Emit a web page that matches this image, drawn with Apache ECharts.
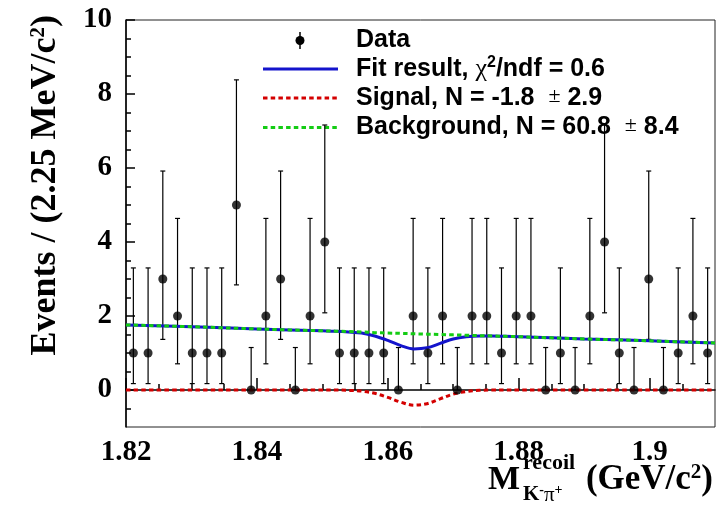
<!DOCTYPE html>
<html>
<head>
<meta charset="utf-8">
<script src="https://cdn.jsdelivr.net/npm/echarts@6/dist/echarts.min.js"></script>
<style>
  html, body { margin: 0; padding: 0; background: #ffffff; }
  #chart { width: 717px; height: 514px; }
</style>
</head>
<body>
<div id="chart"></div>
<script>
// Recoil-mass histogram: 40 bins of 2.25 MeV from 1.82 to 1.91 GeV
const histMin = 1.82;
const histMax = 1.91;
const binWidth = 0.00225;
const counts = [
  1, 1, 3, 2, 1, 1, 1, 5, 0, 2,
  3, 0, 2, 4, 1, 1, 1, 1, 0, 2,
  1, 2, 0, 2, 2, 1, 2, 2, 0, 1,
  0, 2, 4, 1, 0, 3, 0, 1, 2, 1
];

// Asymmetric Poisson error bars, indexed by the bin content
const errLowByCount  = [0.0, 0.827, 1.292, 1.632, 1.914, 2.159];
const errHighByCount = [1.148, 2.299, 2.637, 2.918, 3.162, 3.382];

// Fit components sampled along the mass axis
const curveX = [1.82, 1.83, 1.84, 1.85, 1.852, 1.854, 1.856, 1.858, 1.860, 1.862, 1.864,
                1.866, 1.868, 1.870, 1.872, 1.874, 1.876, 1.878, 1.88, 1.89, 1.90, 1.91];
const backgroundCurve = [1.76, 1.71, 1.65, 1.60, 1.59, 1.58, 1.57, 1.55, 1.54, 1.53, 1.52,
                         1.51, 1.50, 1.49, 1.48, 1.47, 1.46, 1.45, 1.44, 1.38, 1.33, 1.27];
const signalCurve = [0, 0, 0, 0, 0, -0.01, -0.03, -0.09, -0.20, -0.33, -0.41,
                     -0.37, -0.24, -0.11, -0.04, -0.01, 0, 0, 0, 0, 0, 0];
const fitCurve = [1.76, 1.71, 1.65, 1.60, 1.59, 1.57, 1.54, 1.46, 1.34, 1.20, 1.11,
                  1.14, 1.26, 1.38, 1.44, 1.46, 1.46, 1.45, 1.44, 1.38, 1.33, 1.27];

// Axis ticks
const xMajorTicks = [1.82, 1.84, 1.86, 1.88, 1.90];
const xMinorTicks = [1.825, 1.83, 1.835, 1.845, 1.85, 1.855, 1.865, 1.87, 1.875,
                     1.885, 1.89, 1.895, 1.905];
const yMajorTicks = [0, 2, 4, 6, 8, 10];
const yMinorTicks = [-0.5, 0.5, 1, 1.5, 2.5, 3, 3.5, 4.5, 5, 5.5, 6.5, 7, 7.5, 8.5, 9, 9.5];

// Legend entries
const legendData = 'Data';
const legendFit = { text: 'Fit result, ', chi2: '0.6' };
const legendSignal = { text: 'Signal, N = ', value: '-1.8', error: '2.9' };
const legendBackground = { text: 'Background, N = ', value: '60.8', error: '8.4' };

const BLUE = '#1414cc';
const RED = '#d40000';
const GREEN = '#14cc14';
const SERIF = '"Liberation Serif", "Times New Roman", serif';
const SANS = '"Liberation Sans", Arial, sans-serif';
const LEGEND_FONT = 'bold 25px ' + SANS;

const binCenters = counts.map((_, i) => histMin + binWidth * (i + 0.5));
const errorBarData = counts.map((c, i) => [binCenters[i], c, errLowByCount[c], errHighByCount[c]]);
const markerData = counts.map((c, i) => [binCenters[i], c]);
const curvePoints = ys => curveX.map((x, i) => [x, ys[i]]);

const fmtX = v => String(Math.round(v * 1000) / 1000);

const chart = echarts.init(document.getElementById('chart'), null, { renderer: 'canvas' });

const tickLabelStyle = {
  color: '#000', fontFamily: SERIF, fontWeight: 'bold', fontSize: 29
};

const option = {
  animation: false,
  backgroundColor: '#ffffff',
  grid: {
    left: 126, top: 20, width: 589, height: 407,
    show: true, borderColor: '#222', borderWidth: 1, backgroundColor: 'transparent'
  },
  xAxis: [
    {
      type: 'value', min: histMin, max: histMax, position: 'bottom',
      axisLine: { show: true, lineStyle: { color: '#000', width: 1.5 } },
      axisTick: { show: true, inside: true, length: 12, customValues: xMajorTicks,
                  lineStyle: { color: '#000', width: 1.5 } },
      axisLabel: Object.assign({ show: true, margin: 11, customValues: xMajorTicks,
                                 formatter: fmtX }, tickLabelStyle),
      splitLine: { show: false }
    },
    {
      type: 'value', min: histMin, max: histMax, position: 'bottom',
      axisLine: { show: false },
      axisTick: { show: true, inside: true, length: 6, customValues: xMinorTicks,
                  lineStyle: { color: '#000', width: 1.5 } },
      axisLabel: { show: false },
      splitLine: { show: false }
    }
  ],
  yAxis: [
    {
      type: 'value', min: -1, max: 10, position: 'left',
      axisLine: { show: true, lineStyle: { color: '#000', width: 1.5 } },
      axisTick: { show: true, inside: true, length: 9, customValues: yMajorTicks,
                  lineStyle: { color: '#000', width: 1.5 } },
      axisLabel: Object.assign({ show: true, margin: 14, customValues: yMajorTicks }, tickLabelStyle),
      splitLine: { show: false }
    },
    {
      type: 'value', min: -1, max: 10, position: 'left',
      axisLine: { show: false },
      axisTick: { show: true, inside: true, length: 5, customValues: yMinorTicks,
                  lineStyle: { color: '#000', width: 1.5 } },
      axisLabel: { show: false },
      splitLine: { show: false }
    }
  ],
  series: [
    {
      // vertical error bars with short end caps
      type: 'custom',
      xAxisIndex: 0, yAxisIndex: 0,
      z: 2,
      data: errorBarData,
      encode: { x: 0, y: 1 },
      renderItem: function (params, api) {
        const x = api.value(0), y = api.value(1);
        const lo = api.value(2), hi = api.value(3);
        const top = api.coord([x, y + hi]);
        const bot = api.coord([x, y - lo]);
        const cap = 2.5;
        const st = { stroke: '#000', lineWidth: 1.2 };
        const children = [
          { type: 'line', shape: { x1: top[0], y1: top[1], x2: bot[0], y2: bot[1] }, style: st },
          { type: 'line', shape: { x1: top[0] - cap, y1: top[1], x2: top[0] + cap, y2: top[1] }, style: st }
        ];
        if (lo > 0) {
          children.push({ type: 'line', shape: { x1: bot[0] - cap, y1: bot[1], x2: bot[0] + cap, y2: bot[1] }, style: st });
        }
        return { type: 'group', children: children };
      }
    },
    {
      name: 'Fit result',
      type: 'line', xAxisIndex: 0, yAxisIndex: 0, z: 3,
      data: curvePoints(fitCurve),
      showSymbol: false, smooth: 0.35,
      lineStyle: { color: BLUE, width: 3 }
    },
    {
      name: 'Signal',
      type: 'line', xAxisIndex: 0, yAxisIndex: 0, z: 4,
      data: curvePoints(signalCurve),
      showSymbol: false, smooth: 0.35,
      lineStyle: { color: RED, width: 3, type: [4.5, 3.2] }
    },
    {
      name: 'Background',
      type: 'line', xAxisIndex: 0, yAxisIndex: 0, z: 4,
      data: curvePoints(backgroundCurve),
      showSymbol: false, smooth: 0.35,
      lineStyle: { color: GREEN, width: 3, type: [4.5, 3.2] }
    },
    {
      name: 'Data',
      type: 'scatter', xAxisIndex: 0, yAxisIndex: 0, z: 5,
      data: markerData,
      symbol: 'circle', symbolSize: 9,
      itemStyle: { color: '#000' }
    }
  ],
  graphic: [
    // legend
    {
      type: 'group', z: 100,
      children: [
        { type: 'line', shape: { x1: 300, y1: 32, x2: 300, y2: 49 }, style: { stroke: '#000', lineWidth: 1.5 } },
        { type: 'circle', shape: { cx: 300, cy: 40.5, r: 4.5 }, style: { fill: '#000' } },
        { type: 'line', shape: { x1: 263, y1: 69, x2: 338, y2: 69 }, style: { stroke: BLUE, lineWidth: 3 } },
        { type: 'line', shape: { x1: 263, y1: 98, x2: 338, y2: 98 }, style: { stroke: RED, lineWidth: 3, lineDash: [4.5, 3.2] } },
        { type: 'line', shape: { x1: 263, y1: 127.5, x2: 338, y2: 127.5 }, style: { stroke: GREEN, lineWidth: 3, lineDash: [4.5, 3.2] } },
        {
          type: 'text', x: 356, y: 40.5,
          style: { text: legendData, fill: '#000', font: LEGEND_FONT, verticalAlign: 'middle' }
        },
        {
          type: 'text', x: 356, y: 69,
          style: {
            text: '{a|' + legendFit.text + '}{g|χ}{s|2}{a|/ndf = ' + legendFit.chi2 + '}',
            verticalAlign: 'middle',
            rich: {
              a: { fill: '#000', font: LEGEND_FONT },
              g: { fill: '#000', font: '26px ' + SERIF },
              s: { fill: '#000', font: 'bold 16px ' + SANS, padding: [0, 0, 12, 0] }
            }
          }
        },
        {
          type: 'text', x: 356, y: 98,
          style: {
            text: '{a|' + legendSignal.text + legendSignal.value + '  }{p|±}{a| ' + legendSignal.error + '}',
            verticalAlign: 'middle',
            rich: {
              a: { fill: '#000', font: LEGEND_FONT },
              p: { fill: '#000', font: '22px ' + SERIF, padding: [0, 0, 4, 0] }
            }
          }
        },
        {
          type: 'text', x: 356, y: 127.5,
          style: {
            text: '{a|' + legendBackground.text + legendBackground.value + '  }{p|±}{a| ' + legendBackground.error + '}',
            verticalAlign: 'middle',
            rich: {
              a: { fill: '#000', font: LEGEND_FONT },
              p: { fill: '#000', font: '22px ' + SERIF, padding: [0, 0, 4, 0] }
            }
          }
        }
      ]
    },
    // y axis title
    {
      type: 'text', z: 100,
      x: 46, y: 15, rotation: Math.PI / 2,
      style: {
        text: '{t|Events / (2.25 MeV/c}{s|2}{t|)}',
        align: 'right', verticalAlign: 'middle',
        rich: {
          t: { fill: '#000', font: 'bold 36px ' + SERIF },
          s: { fill: '#000', font: 'bold 21px ' + SERIF, padding: [0, 0, 15, 0] }
        }
      }
    },
    // x axis title
    {
      type: 'group', z: 100,
      children: [
        { type: 'text', x: 488, y: 480,
          style: { text: 'M', fill: '#000', font: 'bold 34px ' + SERIF, verticalAlign: 'middle' } },
        { type: 'text', x: 523, y: 463,
          style: { text: 'recoil', fill: '#000', font: 'bold 22px ' + SERIF, verticalAlign: 'middle' } },
        { type: 'text', x: 523, y: 495,
          style: {
            text: '{k|K}{u|-}{p|π}{u|+}',
            verticalAlign: 'middle',
            rich: {
              k: { fill: '#000', font: 'bold 21px ' + SERIF },
              p: { fill: '#000', font: '21px ' + SERIF },
              u: { fill: '#000', font: 'bold 14px ' + SERIF, padding: [0, 0, 9, 0] }
            }
          }
        },
        { type: 'text', x: 713, y: 480,
          style: {
            text: '{t|(GeV/c}{s|2}{t|)}',
            align: 'right', verticalAlign: 'middle',
            rich: {
              t: { fill: '#000', font: 'bold 35px ' + SERIF },
              s: { fill: '#000', font: 'bold 21px ' + SERIF, padding: [0, 0, 15, 0] }
            }
          }
        }
      ]
    }
  ]
};

chart.setOption(option);
</script>
</body>
</html>
